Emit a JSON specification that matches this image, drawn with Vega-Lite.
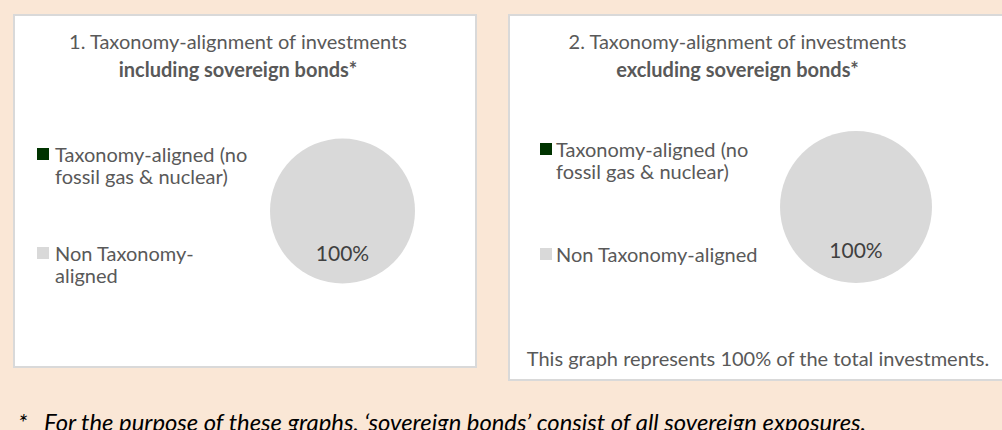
{
  "$schema": "https://vega.github.io/schema/vega-lite/v6.json",
  "background": "#FAE7D6",
  "padding": {"left": 13, "top": 14, "right": 0, "bottom": 10},
  "config": {
    "font": "Lato",
    "view": {"fill": "#FFFFFF", "stroke": "#D9D9D9", "strokeWidth": 2},
    "title": {"color": "#595959", "fontSize": 20, "fontWeight": "normal", "subtitleColor": "#595959", "subtitleFontSize": 20, "subtitleFontWeight": "bold", "subtitlePadding": 8}
  },
  "datasets": {
    "incl": [
      {"category": "Taxonomy-aligned (no fossil gas & nuclear)", "share": 0},
      {"category": "Non Taxonomy-aligned", "share": 1}
    ],
    "excl": [
      {"category": "Taxonomy-aligned (no fossil gas & nuclear)", "share": 0},
      {"category": "Non Taxonomy-aligned", "share": 1}
    ],
    "note": [
      {"note": "This graph represents 100% of the total investments."}
    ]
  },
  "title": {
    "text": "*\u00a0\u00a0\u00a0For the purpose of these graphs, \u2018sovereign bonds\u2019 consist of all sovereign exposures.",
    "orient": "bottom",
    "anchor": "start",
    "frame": "bounds",
    "fontStyle": "italic",
    "fontWeight": "normal",
    "fontSize": 23.8,
    "color": "#000000",
    "offset": 31,
    "dx": 5
  },
  "spacing": 31,
  "resolve": {"scale": {"color": "independent"}, "legend": {"color": "independent"}},
  "hconcat": [
    {
      "width": 462,
      "height": 352,
      "view": {"fill": "#FFFFFF", "stroke": "#D9D9D9", "strokeWidth": 2},
      "data": {"name": "incl"},
      "title": {
        "text": "1. Taxonomy-alignment of investments",
        "subtitle": "including sovereign bonds*",
        "anchor": "middle",
        "dx": -7,
        "dy": 70
      },
      "layer": [
        {
          "mark": {"type": "arc", "x": 328.5, "y": 196, "outerRadius": 72.5},
          "encoding": {
            "theta": {"field": "share", "type": "quantitative", "stack": true},
            "color": {
              "field": "category",
              "type": "nominal",
              "sort": null,
              "scale": {"domain": ["Taxonomy-aligned (no fossil gas & nuclear)", "Non Taxonomy-aligned"], "range": ["#003300", "#D9D9D9"]},
              "legend": {
                "orient": "none",
                "legendX": 19,
                "legendY": 129,
                "padding": 0,
                "title": null,
                "symbolType": "square",
                "symbolSize": 144,
                "symbolStrokeWidth": 0,
                "labelFont": "Lato",
                "labelFontSize": 20,
                "labelColor": "#595959",
                "labelOffset": 2,
                "labelLimit": 400,
                "labelLineHeight": 28,
                "labelBaseline": "top",
                "rowPadding": 55,
                "encode": {"labels": {"update": {"dy": {"value": -8}}}},
                "labelExpr": "datum.label == 'Non Taxonomy-aligned' ? ['Non Taxonomy-', 'aligned'] : ['Taxonomy-aligned (no', 'fossil gas & nuclear)']"
              }
            }
          }
        },
        {
          "transform": [{"filter": "datum.share > 0"}],
          "mark": {"type": "text", "x": 328.5, "y": 196, "radius": 44, "font": "Lato", "fontSize": 21, "color": "#404040"},
          "encoding": {
            "theta": {"field": "share", "type": "quantitative", "stack": true},
            "text": {"field": "share", "type": "quantitative", "format": ".0%"}
          }
        }
      ]
    },
    {
      "width": 496,
      "height": 365,
      "view": {"fill": "#FFFFFF", "stroke": "#D9D9D9", "strokeWidth": 2},
      "data": {"name": "excl"},
      "title": {
        "text": "2. Taxonomy-alignment of investments",
        "subtitle": "excluding sovereign bonds*",
        "anchor": "middle",
        "dx": -19.5,
        "dy": 70
      },
      "layer": [
        {
          "mark": {"type": "arc", "x": 347, "y": 192, "outerRadius": 76},
          "encoding": {
            "theta": {"field": "share", "type": "quantitative", "stack": true},
            "color": {
              "field": "category",
              "type": "nominal",
              "sort": null,
              "scale": {"domain": ["Taxonomy-aligned (no fossil gas & nuclear)", "Non Taxonomy-aligned"], "range": ["#003300", "#D9D9D9"]},
              "legend": {
                "orient": "none",
                "legendX": 27,
                "legendY": 124,
                "padding": 0,
                "title": null,
                "symbolType": "square",
                "symbolSize": 144,
                "symbolStrokeWidth": 0,
                "labelFont": "Lato",
                "labelFontSize": 20,
                "labelColor": "#595959",
                "labelOffset": 0,
                "labelLimit": 400,
                "labelLineHeight": 30,
                "labelBaseline": "top",
                "rowPadding": 61,
                "encode": {"labels": {"update": {"dy": {"value": -8}}}},
                "labelExpr": "datum.label == 'Non Taxonomy-aligned' ? 'Non Taxonomy-aligned' : ['\u2004Taxonomy-aligned (no', 'fossil gas & nuclear)']"
              }
            }
          }
        },
        {
          "transform": [{"filter": "datum.share > 0"}],
          "mark": {"type": "text", "x": 347, "y": 192, "radius": 45, "font": "Lato", "fontSize": 21, "color": "#404040"},
          "encoding": {
            "theta": {"field": "share", "type": "quantitative", "stack": true},
            "text": {"field": "share", "type": "quantitative", "format": ".0%"}
          }
        },
        {
          "data": {"name": "note"},
          "mark": {"type": "text", "x": 249, "y": 345, "font": "Lato", "fontSize": 20, "color": "#595959"},
          "encoding": {"text": {"field": "note", "type": "nominal"}}
        }
      ]
    }
  ]
}
